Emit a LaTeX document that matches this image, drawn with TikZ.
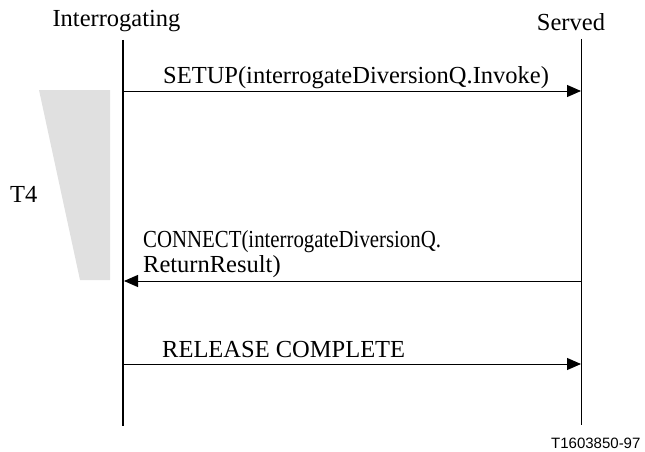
\documentclass[tikz,border=0pt]{standalone}
\usepackage{fontspec}
\setmainfont{Liberation Serif}
\setsansfont{Liberation Sans}
\usetikzlibrary{arrows.meta,positioning}
\definecolor{timergrey}{HTML}{E0E0E0}
\tikzset{
  msg/.style={-{Triangle[length=14pt,width=12pt]},line width=1pt},
  lbl/.style={font=\fontsize{24.5}{26}\selectfont,inner sep=0pt},
}
\begin{document}
\begin{tikzpicture}[x=1pt,y=-1pt]
\useasboundingbox (0,0) rectangle (645,452);
% timer T4
\fill[timergrey] (39,90) -- (110,90) -- (110,280) -- (80,280) -- cycle;
\node[lbl,anchor=base west] (t4) at (10,202) {T4};
% lifelines
\node[lbl,anchor=base] (int) at (116.5,27) {Interrogating};
\node[lbl,anchor=base] (srv) at (571,31) {Served};
\coordinate (int top) at (123,40);
\coordinate (int bot) at (123,426);
\coordinate (srv top) at (581,39);
\coordinate (srv bot) at (581,425);
\draw[line width=2pt] (int top) -- (int bot);
\draw[line width=1pt] (srv top) -- (srv bot);
% messages
\coordinate (i1) at (124,91);  \coordinate (s1) at (581,91);
\coordinate (i2) at (124,281); \coordinate (s2) at (581,281);
\coordinate (i3) at (124,364); \coordinate (s3) at (581,364);
\draw[msg] (i1) -- (s1);
\draw[msg] (s2) -- (i2);
\draw[msg] (i3) -- (s3);
\node[lbl,anchor=base west] (setup) at (163,84) {SETUP(interrogateDiversionQ.Invoke)};
\node[lbl,anchor=base west] (conn) at (143,247) {\scalebox{0.85}[1]{CONNECT(interrogateDiversionQ.}};
\node[lbl,anchor=base west] (res) at (143,272) {ReturnResult)};
\node[lbl,anchor=base west] (rel) at (162,357) {RELEASE COMPLETE};
% figure number
\node[font=\sffamily\fontsize{15}{17}\selectfont,inner sep=0pt,anchor=base west] (fig) at (551,448) {T1603850-97};
\end{tikzpicture}
\end{document}
